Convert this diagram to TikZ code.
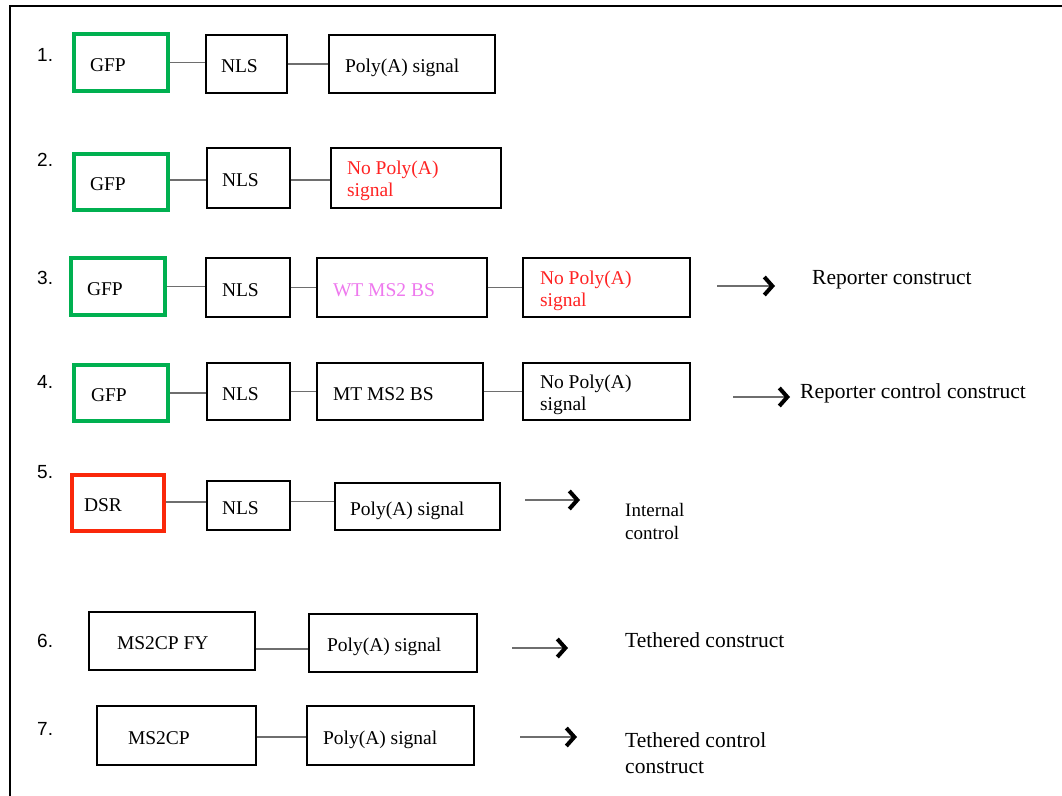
\documentclass[tikz,border=0pt]{standalone}
\usepackage{fontspec}
\setmainfont{Liberation Serif}
\newfontfamily\numfont{Liberation Sans}
\usetikzlibrary{arrows.meta}
\definecolor{gfpgreen}{RGB}{0,176,80}
\definecolor{dsrred}{RGB}{250,40,10}
\definecolor{wtpink}{RGB}{238,120,238}
\definecolor{nored}{RGB}{255,35,35}
\definecolor{lkgray}{RGB}{110,110,110}
\newcommand{\onestrut}{\rule[-4.3pt]{0pt}{25.6pt}}
\newcommand{\twostrut}{\rule{0pt}{19.3pt}}
\tikzset{
  bx/.style={draw=black, line width=1.1pt, inner ysep=0pt, align=flush left,
    font=\fontsize{19.5}{22}\selectfont},
  gbx/.style={bx, draw=gfpgreen, line width=4pt},
  rbx/.style={bx, draw=dsrred, line width=4pt},
  lk/.style={draw=lkgray, line width=1.7pt},
  arr/.style={draw=lkgray, line width=1.7pt,
    -{Straight Barb[length=8pt,width=18pt,line width=4pt 0,color=black]}},
  num/.style={anchor=west, inner sep=0pt, font=\numfont\fontsize{19}{21}\selectfont},
  lab/.style={anchor=west, inner sep=0pt, align=left, font=\fontsize{21.5}{26}\selectfont},
}
\begin{document}
\begin{tikzpicture}[x=1pt,y=-1pt]
\useasboundingbox (0,0) rectangle (1062,795);
\fill[white] (0,0) rectangle (1062,795);
\coordinate (fb) at (10,800);
\coordinate (ftl) at (10,6);
\coordinate (ftr) at (1064,6);
\draw[line width=2pt] (fb) -- (ftl) -- (ftr);

% numbers
\node[num] (l1) at (37,55) {1.};
\node[num] (l2) at (37,160) {2.};
\node[num] (l3) at (37,278) {3.};
\node[num] (l4) at (37,382) {4.};
\node[num] (l5) at (37,472) {5.};
\node[num] (l6) at (37,641) {6.};
\node[num] (l7) at (37,729) {7.};

% row 1
\node[gbx, minimum width=94pt, minimum height=57pt, inner xsep=16pt, text width=62pt] (g1) at (121,62.5) {\onestrut GFP};
\node[bx, minimum width=81pt, minimum height=58pt, inner xsep=15pt, text width=51pt] (n1) at (246.5,64) {\onestrut NLS};
\node[bx, minimum width=166pt, minimum height=58pt, inner xsep=16pt, text width=134pt] (p1) at (412,64) {\onestrut Poly(A) signal};
\draw[lk] (g1.east) -- (g1.east -| n1.west);
\draw[lk] (n1.east) -- (n1.east -| p1.west);

% row 2
\node[gbx, minimum width=94pt, minimum height=56pt, inner xsep=16pt, text width=62pt] (g2) at (121,182) {\onestrut GFP};
\node[bx, minimum width=83pt, minimum height=60pt, inner xsep=15pt, text width=53pt] (n2) at (248.5,178) {\onestrut NLS};
\node[bx, minimum width=170pt, minimum height=60pt, inner xsep=16pt, text width=138pt, text=nored] (p2) at (416,178) {\twostrut No Poly(A)\\signal};
\draw[lk] ([yshift=2pt]g2.east) -- ([yshift=2pt]g2.east -| n2.west);
\draw[lk] ([yshift=-2pt]n2.east) -- ([yshift=-2pt]n2.east -| p2.west);

% row 3
\node[gbx, minimum width=94pt, minimum height=57pt, inner xsep=16pt, text width=62pt] (g3) at (118,286.5) {\onestrut GFP};
\node[bx, minimum width=84pt, minimum height=59pt, inner xsep=16pt, text width=52pt] (n3) at (248,287.5) {\onestrut NLS};
\node[bx, minimum width=170pt, minimum height=59pt, inner xsep=16pt, text width=138pt, text=wtpink] (w3) at (402,287.5) {\onestrut WT MS2 BS};
\node[bx, minimum width=167pt, minimum height=59pt, inner xsep=17pt, text width=133pt, text=nored] (p3) at (606.5,287.5) {\twostrut No Poly(A)\\signal};
\draw[lk] (g3.east) -- (g3.east -| n3.west);
\draw[lk] (n3.east) -- (n3.east -| w3.west);
\draw[lk] (w3.east) -- (w3.east -| p3.west);
\coordinate (a3s) at (717,286);
\coordinate (a3e) at (775,286);
\draw[arr] (a3s) -- (a3e);
\node[lab] (t3) at (812,280) {Reporter construct};

% row 4
\node[gbx, minimum width=94pt, minimum height=56pt, inner xsep=17pt, text width=60pt] (g4) at (121,393) {\onestrut GFP};
\node[bx, minimum width=83pt, minimum height=57pt, inner xsep=15pt, text width=53pt] (n4) at (248.5,391.5) {\onestrut NLS};
\node[bx, minimum width=166pt, minimum height=57pt, inner xsep=16pt, text width=134pt] (m4) at (400,391.5) {\onestrut MT MS2 BS};
\node[bx, minimum width=167pt, minimum height=57pt, inner xsep=17pt, text width=133pt] (p4) at (606.5,391.5) {\twostrut No Poly(A)\\signal};
\draw[lk] (g4.east) -- (g4.east -| n4.west);
\draw[lk] (n4.east) -- (n4.east -| m4.west);
\draw[lk] (m4.east) -- (m4.east -| p4.west);
\coordinate (a4s) at (733,397);
\coordinate (a4e) at (790,397);
\draw[arr] (a4s) -- (a4e);
\node[lab] (t4) at (800,393) {Reporter control construct};

% row 5
\node[rbx, minimum width=92pt, minimum height=56pt, inner xsep=12pt, text width=68pt] (d5) at (118,503) {\onestrut DSR};
\node[bx, minimum width=83pt, minimum height=49pt, inner xsep=15pt, text width=53pt] (n5) at (248.5,505.5) {\onestrut NLS};
\node[bx, minimum width=165pt, minimum height=47pt, inner xsep=15pt, text width=135pt] (p5) at (417.5,506.5) {\onestrut Poly(A) signal};
\draw[lk] ([yshift=1pt]d5.east) -- ([yshift=1pt]d5.east -| n5.west);
\draw[lk] ([yshift=4pt]n5.east) -- ([yshift=4pt]n5.east -| p5.west);
\coordinate (a5s) at (525,500);
\coordinate (a5e) at (580,500);
\draw[arr] (a5s) -- (a5e);
\node[lab, font=\fontsize{19}{23}\selectfont] (t5) at (625,521) {Internal\\control};

% row 6
\node[bx, minimum width=166pt, minimum height=58pt, inner xsep=28pt, text width=110pt] (m6) at (172,641) {\onestrut MS2CP FY};
\node[bx, minimum width=168pt, minimum height=58pt, inner xsep=18pt, text width=132pt] (p6) at (393,643) {\onestrut Poly(A) signal};
\draw[lk] ([yshift=-8pt]m6.east) -- ([yshift=-8pt]m6.east -| p6.west);
\coordinate (a6s) at (512,648);
\coordinate (a6e) at (568,648);
\draw[arr] (a6s) -- (a6e);
\node[lab] (t6) at (625,640) {Tethered construct};

% row 7
\node[bx, minimum width=159pt, minimum height=59pt, inner xsep=31pt, text width=97pt] (m7) at (176.5,735.5) {\onestrut MS2CP};
\node[bx, minimum width=167pt, minimum height=59pt, inner xsep=16pt, text width=135pt] (p7) at (390.5,735.5) {\onestrut Poly(A) signal};
\draw[lk] ([yshift=-1.5pt]m7.east) -- ([yshift=-1.5pt]m7.east -| p7.west);
\coordinate (a7s) at (520,737);
\coordinate (a7e) at (577,737);
\draw[arr] (a7s) -- (a7e);
\node[lab] (t7) at (625,753) {Tethered control\\construct};
\end{tikzpicture}
\end{document}
